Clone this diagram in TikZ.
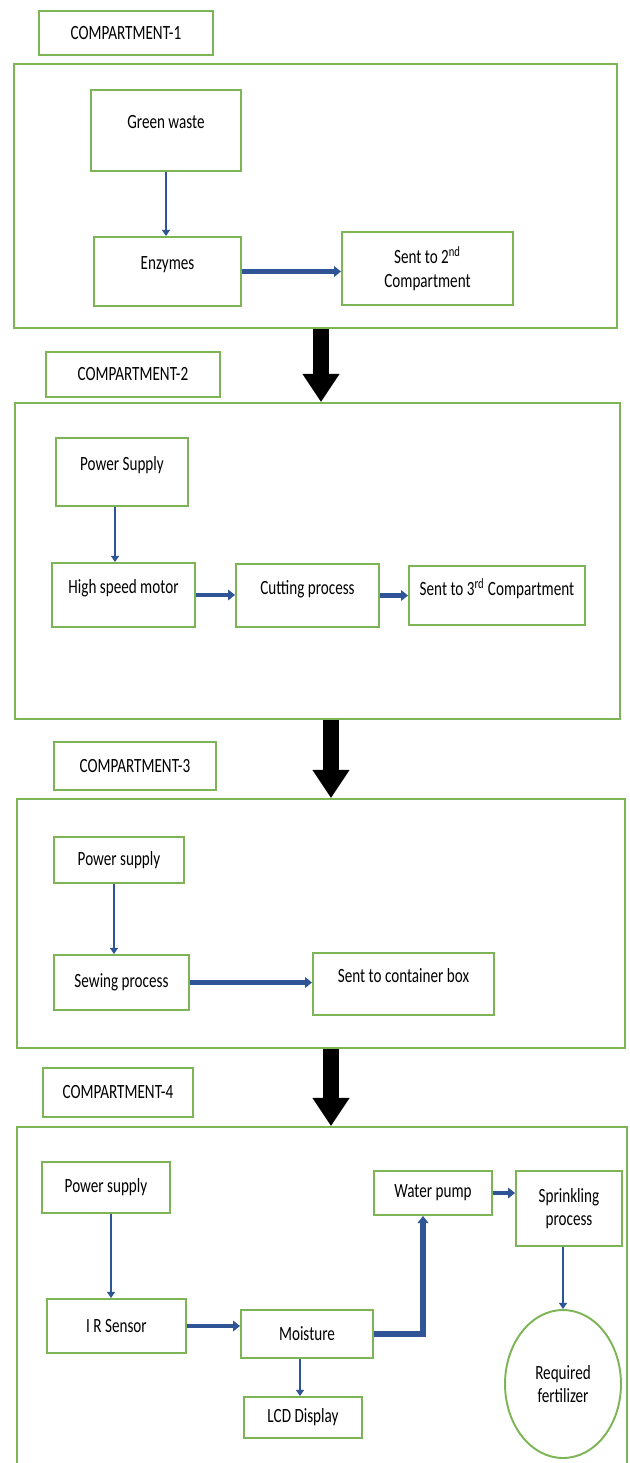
\documentclass[tikz,border=0pt]{standalone}
\usepackage{fontspec}
\setmainfont{Carlito}[FakeStretch=0.75]
\usetikzlibrary{arrows.meta,shapes.geometric}
\definecolor{boxgreen}{RGB}{125,180,85}
\definecolor{flowblue}{RGB}{47,85,151}

\begin{document}
\begin{tikzpicture}[x=0.02cm,y=-0.02cm,
  every node/.style={font=\fontsize{11.5}{13.5}\selectfont, inner sep=1pt, align=center},
  procbox/.style={draw=boxgreen, line width=1.1pt, fill=white},
  raised/.style={text depth=0.33cm},
  bigframe/.style={draw=boxgreen, line width=1.1pt},
  flowthin/.style={draw=flowblue, line width=1.6pt, -{Triangle[length=3.5pt,width=4.5pt]}},
  flowthick/.style={draw=flowblue, line width=2.8pt, -{Triangle[length=4pt,width=6pt]}},
  bigarrow/.style={draw=black, line width=9.6pt, -{Triangle[length=16pt,width=20pt]}}]
\useasboundingbox (0,0) rectangle (629,1463);

\node[bigframe, minimum width=12.06cm, minimum height=5.28cm] (frame1) at (315.5,196) {};
\node[bigframe, minimum width=12.1cm, minimum height=6.32cm] (frame2) at (317.5,561) {};
\node[bigframe, minimum width=12.16cm, minimum height=4.98cm] (frame3) at (321,923.5) {};
\node[bigframe, minimum width=12.2cm, minimum height=6.96cm] (frame4) at (322,1301) {};

\node[procbox, minimum width=3.48cm, minimum height=0.88cm] (comp1) at (126,33) {COMPARTMENT-1};
\node[procbox, minimum width=3.48cm, minimum height=0.9cm] (comp2) at (133,374.5) {COMPARTMENT-2};
\node[procbox, minimum width=3.24cm, minimum height=0.96cm] (comp3) at (135,766) {COMPARTMENT-3};
\node[procbox, minimum width=3cm, minimum height=0.98cm] (comp4) at (118,1092.5) {COMPARTMENT-4};

\node[procbox, raised, minimum width=3cm, minimum height=1.62cm] (gwaste) at (166,130.5) {Green waste};
\node[procbox, raised, minimum width=2.94cm, minimum height=1.38cm] (enzymes) at (167.5,271.5) {Enzymes};
\node[procbox, minimum width=3.42cm, minimum height=1.46cm] (sent2) at (427.5,268.5) {Sent to 2\textsuperscript{nd}\\Compartment};

\node[procbox, raised, minimum width=2.64cm, minimum height=1.36cm] (power2) at (122,472) {Power Supply};
\node[procbox, raised, minimum width=2.86cm, minimum height=1.28cm] (motor) at (123.5,595) {High speed motor};
\node[procbox, raised, minimum width=2.86cm, minimum height=1.26cm] (cutting) at (307.5,595.5) {Cutting process};
\node[procbox, raised, minimum width=3.52cm, minimum height=1.18cm] (sent3) at (497,595.5) {Sent to 3\textsuperscript{rd} Compartment};

\node[procbox, minimum width=2.6cm, minimum height=0.92cm] (power3) at (119,860) {Power supply};
\node[procbox, minimum width=2.7cm, minimum height=1.1cm] (sewing) at (121.5,982.5) {Sewing process};
\node[procbox, raised, minimum width=3.62cm, minimum height=1.24cm] (container) at (403.5,984) {Sent to container box};

\node[procbox, minimum width=2.56cm, minimum height=1.02cm] (power4) at (106,1187.5) {Power supply};
\node[procbox, minimum width=2.78cm, minimum height=1.08cm] (irsensor) at (116.5,1326) {I R Sensor};
\node[procbox, minimum width=2.64cm, minimum height=0.96cm] (moisture) at (307,1334) {Moisture};
\node[procbox, minimum width=2.36cm, minimum height=0.82cm] (lcd) at (303,1417.5) {LCD Display};
\node[procbox, minimum width=2.36cm, minimum height=0.88cm] (pump) at (433,1193) {Water pump};
\node[procbox, minimum width=2.12cm, minimum height=1.5cm] (sprinkle) at (569,1208.5) {Sprinkling\\process};
\node[procbox, ellipse, minimum width=2.32cm, minimum height=2.96cm] (fert) at (563,1384) {Required\\fertilizer};

\draw[flowthin] (gwaste.south) -- (gwaste.south |- enzymes.north);
\draw[flowthick] (enzymes.east) -- (enzymes.east -| sent2.west);
\draw[flowthin] ([xshift=-0.14cm]power2.south) -- ([xshift=-0.14cm]power2.south |- motor.north);
\draw[flowthick] (motor.east) -- (motor.east -| cutting.west);
\draw[flowthick] (cutting.east) -- (cutting.east -| sent3.west);
\draw[flowthin] ([xshift=-0.1cm]power3.south) -- ([xshift=-0.1cm]power3.south |- sewing.north);
\draw[flowthick] (sewing.east) -- (sewing.east -| container.west);
\draw[flowthin] ([xshift=0.1cm]power4.south) -- ([xshift=0.1cm]power4.south |- irsensor.north);
\draw[flowthick] (irsensor.east) -- (irsensor.east -| moisture.west);
\draw[flowthick, line width=3.4pt] (moisture.east) -| ([xshift=-0.2cm]pump.south);
\draw[flowthin] ([xshift=-0.14cm]moisture.south) -- ([xshift=-0.14cm]moisture.south |- lcd.north);
\draw[flowthick] (pump.east) -- (pump.east -| sprinkle.west);
\draw[flowthin] (sprinkle.south -| fert.north) -- (fert.north);

\draw[bigarrow] ([xshift=0.11cm]frame1.south) -- ([xshift=0.11cm]frame1.south |- frame2.north);
\draw[bigarrow] ([xshift=0.27cm]frame2.south) -- ([xshift=0.27cm]frame2.south |- frame3.north);
\draw[bigarrow] ([xshift=0.2cm]frame3.south) -- ([xshift=0.2cm]frame3.south |- frame4.north);
\end{tikzpicture}
\end{document}
